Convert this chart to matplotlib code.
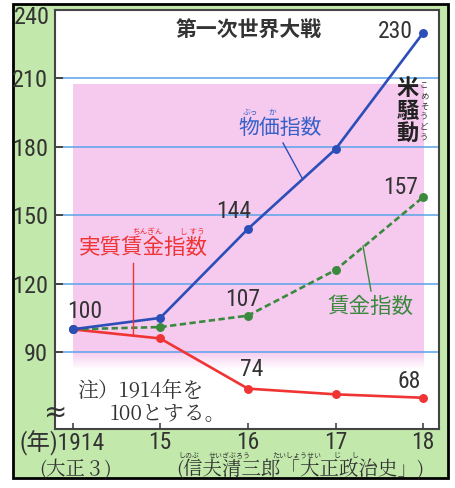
import numpy as np
import matplotlib
matplotlib.use("Agg")
import matplotlib.pyplot as plt
from matplotlib.patches import Rectangle

# ------------------------------------------------------------
# data
# ------------------------------------------------------------
years = [1914, 1915, 1916, 1917, 1918]
year_labels = ["", "15", "16", "17", "18"]
price_index = [100, 105, 144, 179, 230]       # 物価指数
wage_index = [100, 101, 106, 126, 158]        # 賃金指数
real_wage_index = [100, 96, 74, 71.5, 70]     # 実質賃金指数
yticks = [90, 120, 150, 180, 210]

# ------------------------------------------------------------
# fonts
# ------------------------------------------------------------
NUM = ["Roboto Condensed", "Liberation Sans", "DejaVu Sans"]
MIX = ["Roboto Condensed", "Noto Sans CJK JP", "DejaVu Sans"]
CJK = ["Noto Sans CJK JP", "DejaVu Sans"]
SERIF = ["Noto Serif CJK JP", "Noto Serif JP", "Noto Sans CJK JP", "DejaVu Sans"]

c_blue = "#2b4eb8"
c_green = "#3a8a3e"
c_red = "#f03434"
c_text = "#333333"
c_grid = "#5aa3ea"
c_pink = (0.965, 0.79, 0.935)
c_bg = "#c2e9ab"

W, H = 456, 488
fig = plt.figure(figsize=(W / 100, H / 100), dpi=100)

# background with green panel and black frame (pixel coords)
bg = fig.add_axes([0, 0, 1, 1], zorder=-1)
bg.set_xlim(0, W)
bg.set_ylim(H, 0)
bg.axis("off")
bg.add_patch(Rectangle((13, 4), 435, 474, facecolor=c_bg, edgecolor="black", lw=2))

# main axes
x0, x1, y0, y1 = 55, 439, 10, 429
ax = fig.add_axes([x0 / W, 1 - y1 / H, (x1 - x0) / W, (y1 - y0) / H], zorder=1)
ax.set_facecolor("white")

# pink WWI band, fading at the bottom
ny = 200
alpha = np.ones(ny)
yy = np.linspace(82, 207, ny)
fade = yy < 90
alpha[fade] = (yy[fade] - 82) / 8
img = np.zeros((ny, 1, 4))
img[:, 0, 0:3] = c_pink
img[:, 0, 3] = alpha
ax.imshow(img, extent=[1914, 1918, 82, 207], origin="lower", aspect="auto",
          zorder=0, interpolation="bilinear")

ax.set_yticks(yticks)
ax.grid(axis="y", color=c_grid, lw=1.1)
ax.set_axisbelow(True)

ax.plot(years, real_wage_index, color=c_red, lw=1.9, marker="o", ms=5.4, zorder=3)
ax.plot(years, wage_index, color=c_green, lw=1.9, dashes=(2.4, 1.3), marker="o", ms=5.4, zorder=4)
ax.plot(years, price_index, color=c_blue, lw=1.9, marker="o", ms=5.4, zorder=5)

ax.set_xlim(1913.8, 1918.18)
ax.set_ylim(56.3, 240)

ax.set_xticks(years)
ax.set_xticklabels(year_labels, fontfamily=NUM, fontsize=17, color=c_text)
ax.set_yticklabels([str(v) for v in yticks], fontfamily=NUM, fontsize=17.5, color=c_text)
ax.tick_params(axis="y", direction="in", length=6, width=1.4, pad=5, colors="#444")
ax.tick_params(axis="x", direction="in", length=4, width=1.2, pad=1.5, colors="#444")
for lbl in ax.get_xticklabels() + ax.get_yticklabels():
    lbl.set_color(c_text)
for sp in ax.spines.values():
    sp.set_color("#444")
    sp.set_linewidth(1.5)

# overlay for annotations (pixel coords)
ov = fig.add_axes([0, 0, 1, 1], zorder=10)
ov.set_xlim(0, W)
ov.set_ylim(H, 0)
ov.axis("off")
ov.patch.set_alpha(0)

def t(x, y, s, **kw):
    kw.setdefault("va", "center")
    kw.setdefault("color", c_text)
    ov.text(x, y, s, **kw)

t(50, 18, "240", family=NUM, fontsize=17.5, ha="right")
t(20, 443, "(年)1914", family=MIX, fontsize=17, ha="left")
t(76, 470, "(大正３)", family=SERIF, fontsize=14, ha="center")
t(300, 470, "(信夫清三郎「大正政治史」)", family=SERIF, fontsize=14, ha="center")
for x, s in [(189, "しのぶ"), (230, "せいざぶろう"), (297, "たいしょうせい"), (337, "じ"), (355, "し")]:
    t(x, 456, s, family=CJK, fontsize=5, ha="center")

# axis break
t(55, 413, "≈", family="DejaVu Sans", fontsize=20, ha="center")

# title and event
t(249, 30, "第一次世界大戦", family=CJK, fontsize=15, weight="bold", ha="center")
t(408, 111, "米\n騒\n動", family=CJK, fontsize=16, weight="bold", ha="center",
  linespacing=0.95, color="#222")
t(424, 112, "こ\nめ\nそ\nう\nど\nう", family=CJK, fontsize=6, ha="center", linespacing=1.2)

# data labels
t(413, 31, "230", family=NUM, fontsize=17, ha="right")
t(418, 187, "157", family=NUM, fontsize=17, ha="right")
t(234, 212, "144", family=NUM, fontsize=17, ha="center")
t(243, 300, "107", family=NUM, fontsize=17, ha="center")
t(85, 312, "100", family=NUM, fontsize=17, ha="center")
t(252, 370, "74", family=NUM, fontsize=17, ha="center")
t(409, 382, "68", family=NUM, fontsize=17, ha="center")

# series names with leaders
t(280, 128, "物価指数", family=CJK, fontsize=15, ha="center", color="#3560c8")
t(250, 113, "ぶっ", family=CJK, fontsize=5.5, ha="center", color="#3560c8")
t(272, 113, "か", family=CJK, fontsize=5.5, ha="center", color="#3560c8")
ov.plot([283, 302], [143, 178], color=c_blue, lw=1)

t(143, 248, "実質賃金指数", family=CJK, fontsize=15.5, ha="center", color=c_red)
t(147, 232, "ちんぎん", family=CJK, fontsize=5.5, ha="center", color=c_red)
t(192, 232, "し すう", family=CJK, fontsize=5.5, ha="center", color=c_red)
ov.plot([133, 133], [263, 335], color=c_red, lw=1)

t(370, 307, "賃金指数", family=CJK, fontsize=15.5, ha="center", color=c_green)
ov.plot([363, 371], [246, 291], color=c_green, lw=1)

# note
t(77, 391, "注）1914年を", family=SERIF, fontsize=15, ha="left")
t(110, 414, "100とする。", family=SERIF, fontsize=15, ha="left")

fig.savefig("out.png", dpi=100)
